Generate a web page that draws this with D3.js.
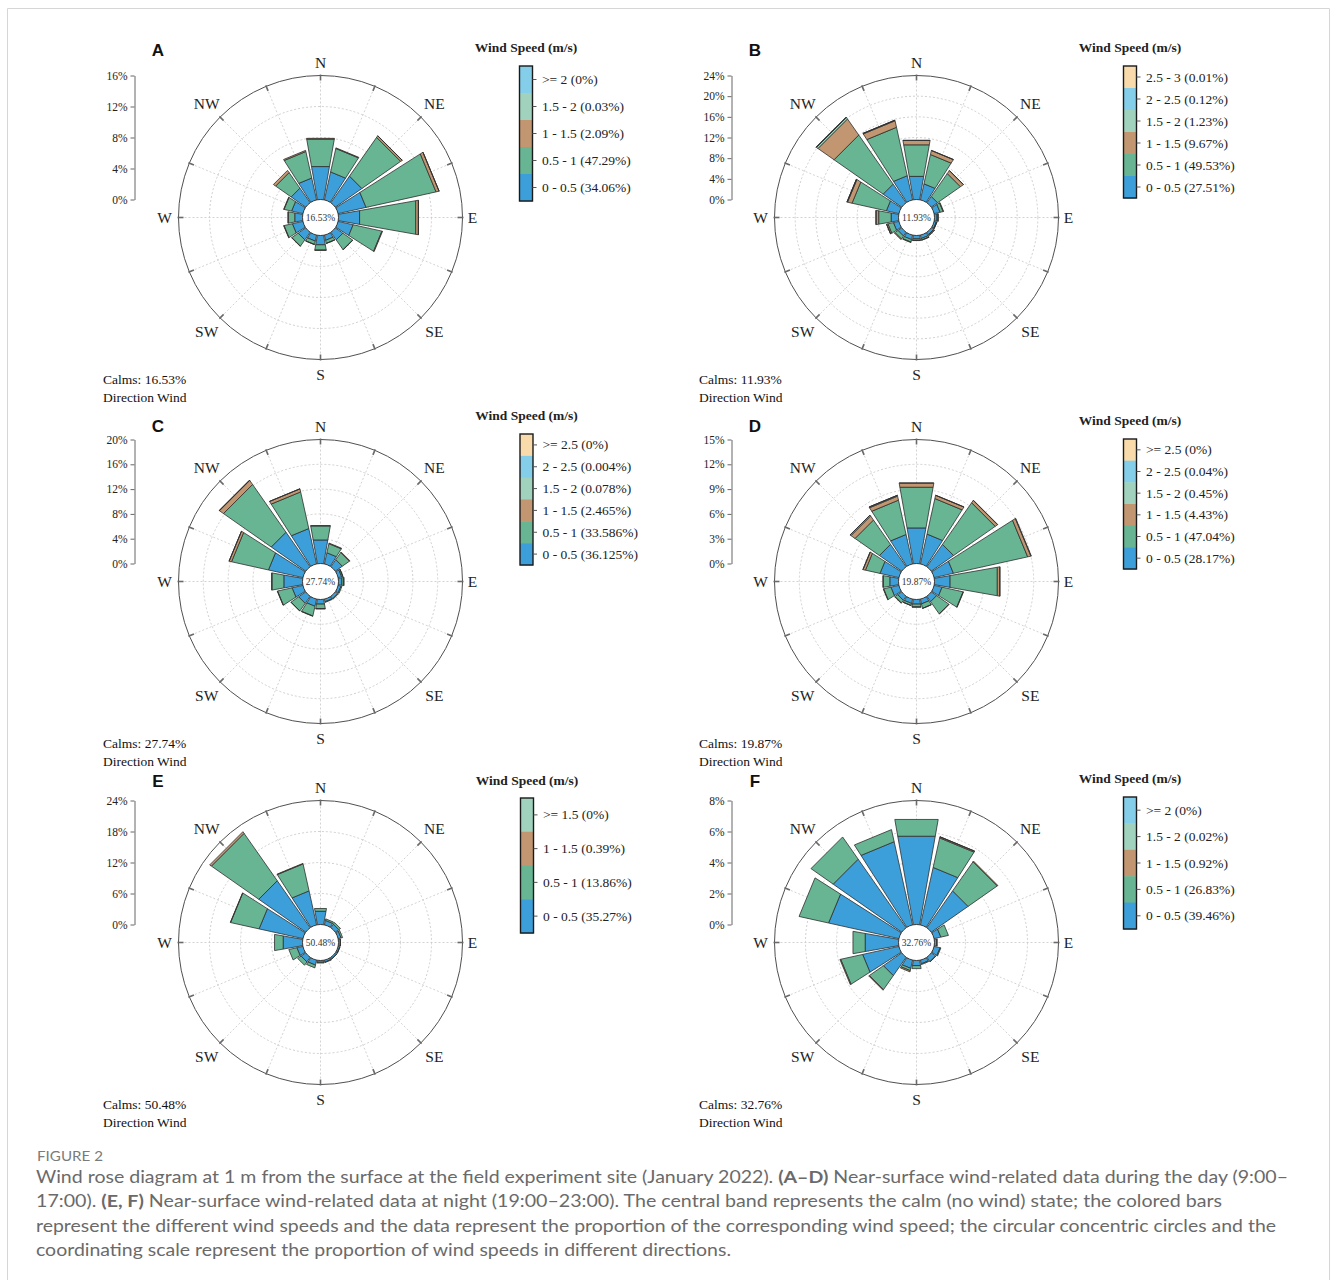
<!DOCTYPE html>
<html>
<head>
<meta charset="utf-8">
<script src="https://cdn.jsdelivr.net/npm/d3@7"></script>
<style>
  body { margin: 0; background: #fff; }
  svg { display: block; }
</style>
</head>
<body>
<svg id="fig" width="1333" height="1280"></svg>
<script>
// ---------- data ----------
// 16 sectors, clockwise from north
const sectors16 = ["N","NNE","NE","ENE","E","ESE","SE","SSE","S","SSW","SW","WSW","W","WNW","NW","NNW"];
const compassLabels = ["N","NE","E","SE","S","SW","W","NW"];
const panelLetters = ["A","B","C","D","E","F"];
const calmPct = [16.53, 11.93, 27.74, 19.87, 50.48, 32.76];
const radialMax = [16, 24, 20, 15, 24, 8];
const radialStep = [4, 4, 4, 3, 6, 2];

// speed bins, inner to outer: 0-0.5, 0.5-1, 1-1.5, 1.5-2, 2-2.5, >=2.5
const binColors = ["#3d9fd9", "#67b593", "#c29670", "#a0d2bd", "#84cee9", "#f9dbab"];

// legend entries, top to bottom
const legendA = [">= 2 (0%)", "1.5 - 2 (0.03%)", "1 - 1.5 (2.09%)", "0.5 - 1 (47.29%)", "0 - 0.5 (34.06%)"];
const legendB = ["2.5 - 3 (0.01%)", "2 - 2.5 (0.12%)", "1.5 - 2 (1.23%)", "1 - 1.5 (9.67%)", "0.5 - 1 (49.53%)", "0 - 0.5 (27.51%)"];
const legendC = [">= 2.5 (0%)", "2 - 2.5 (0.004%)", "1.5 - 2 (0.078%)", "1 - 1.5 (2.465%)", "0.5 - 1 (33.586%)", "0 - 0.5 (36.125%)"];
const legendD = [">= 2.5 (0%)", "2 - 2.5 (0.04%)", "1.5 - 2 (0.45%)", "1 - 1.5 (4.43%)", "0.5 - 1 (47.04%)", "0 - 0.5 (28.17%)"];
const legendE = [">= 1.5 (0%)", "1 - 1.5 (0.39%)", "0.5 - 1 (13.86%)", "0 - 0.5 (35.27%)"];
const legendF = [">= 2 (0%)", "1.5 - 2 (0.02%)", "1 - 1.5 (0.92%)", "0.5 - 1 (26.83%)", "0 - 0.5 (39.46%)"];

// frequency (%) per speed bin (rows, inner to outer) per sector (columns)
const freqA = [
  [4.35, 3.7, 4.2, 3.7, 2.8, 2.0, 1.2, 0.7, 1.25, 0.8, 1.2, 1.4, 1.05, 1.5, 2.3, 2.9],
  [3.6, 3.1, 6.1, 9.25, 7.35, 3.8, 1.55, 0.4, 0.7, 0.45, 1.0, 1.1, 0.85, 1.0, 2.45, 3.5],
  [0.1, 0.08, 0.25, 0.4, 0.35, 0.08, 0.03, 0.02, 0.03, 0.02, 0.03, 0.05, 0.04, 0.05, 0.35, 0.15],
  [0, 0, 0.01, 0.01, 0.01, 0, 0, 0, 0, 0, 0, 0, 0, 0, 0, 0],
  [0, 0, 0, 0, 0, 0, 0, 0, 0, 0, 0, 0, 0, 0, 0, 0]
];
const freqB = [
  [4.6, 3.2, 1.5, 1.2, 0.55, 0.45, 0.55, 0.7, 0.7, 0.9, 0.9, 1.1, 1.5, 2.5, 4.4, 4.8],
  [6.2, 5.8, 5.4, 0.6, 0.2, 0.1, 0.2, 0.3, 0.3, 0.5, 0.7, 1.1, 2.45, 6.8, 11.6, 9.6],
  [0.85, 0.8, 0.7, 0.1, 0.02, 0.02, 0.03, 0.05, 0.05, 0.1, 0.15, 0.25, 0.5, 0.9, 3.8, 1.3],
  [0.05, 0.03, 0.03, 0, 0, 0, 0, 0, 0, 0, 0, 0.02, 0.05, 0.1, 0.35, 0.1],
  [0, 0, 0, 0, 0, 0, 0, 0, 0, 0, 0, 0, 0, 0.01, 0.08, 0.02],
  [0, 0, 0, 0, 0, 0, 0, 0, 0, 0, 0, 0, 0, 0, 0.01, 0]
];
const freqC = [
  [3.9, 1.85, 1.4, 0.6, 0.6, 0.5, 0.5, 0.45, 0.8, 1.2, 1.4, 1.8, 3.1, 5.7, 6.8, 5.85],
  [2.3, 1.5, 1.4, 0.2, 0.3, 0.15, 0.1, 0.1, 0.75, 1.6, 1.5, 2.4, 1.95, 6.1, 9.4, 6.05],
  [0.05, 0.1, 0.1, 0.02, 0.02, 0, 0, 0, 0.02, 0.05, 0.03, 0.05, 0.05, 0.4, 0.8, 0.5],
  [0, 0, 0, 0, 0, 0, 0, 0, 0, 0, 0, 0, 0, 0.01, 0.04, 0.02],
  [0, 0, 0, 0, 0, 0, 0, 0, 0, 0, 0, 0, 0, 0, 0.004, 0],
  [0, 0, 0, 0, 0, 0, 0, 0, 0, 0, 0, 0, 0, 0, 0, 0]
];
const freqD = [
  [4.4, 3.7, 3.3, 2.4, 1.95, 1.0, 0.8, 0.6, 0.6, 0.55, 0.6, 1.0, 1.1, 2.35, 3.3, 3.65],
  [5.0, 4.4, 6.15, 9.2, 5.8, 2.6, 1.8, 0.55, 0.35, 0.25, 0.4, 0.9, 0.8, 1.8, 3.6, 4.25],
  [0.5, 0.4, 0.35, 0.4, 0.3, 0.05, 0.05, 0.02, 0.02, 0.02, 0.05, 0.05, 0.05, 0.3, 0.6, 0.5],
  [0.03, 0.02, 0.03, 0.05, 0.02, 0, 0, 0, 0, 0, 0, 0, 0, 0.03, 0.12, 0.1],
  [0, 0, 0, 0, 0, 0, 0, 0, 0, 0, 0, 0, 0, 0, 0.02, 0.01],
  [0, 0, 0, 0, 0, 0, 0, 0, 0, 0, 0, 0, 0, 0, 0, 0]
];
const freqE = [
  [2.65, 0.9, 0.85, 0.6, 0.4, 0.35, 0.35, 0.4, 0.4, 1.0, 1.1, 1.2, 3.85, 8.7, 11.1, 6.75],
  [0.55, 0.3, 0.4, 0.3, 0.05, 0.05, 0.05, 0.1, 0.15, 0.55, 0.8, 1.6, 1.7, 5.65, 11.2, 5.35],
  [0, 0, 0, 0, 0, 0, 0, 0, 0, 0, 0, 0, 0, 0.05, 0.4, 0.1],
  [0, 0, 0, 0, 0, 0, 0, 0, 0, 0, 0, 0, 0, 0, 0, 0]
];
const freqF = [
  [5.8, 3.8, 2.9, 0.45, 0.15, 0.4, 0.35, 0.25, 0.35, 0.55, 1.45, 2.4, 2.2, 4.65, 5.4, 5.5],
  [1.1, 1.95, 2.3, 0.5, 0.05, 0.05, 0.02, 0.05, 0.2, 0.15, 1.1, 1.45, 0.8, 1.95, 1.75, 0.8],
  [0, 0.07, 0.05, 0, 0, 0, 0, 0, 0, 0.08, 0.05, 0.05, 0, 0, 0, 0],
  [0, 0.01, 0, 0, 0, 0, 0, 0, 0, 0, 0, 0, 0, 0, 0, 0],
  [0, 0, 0, 0, 0, 0, 0, 0, 0, 0, 0, 0, 0, 0, 0, 0]
];

const freqs = [freqA, freqB, freqC, freqD, freqE, freqF];
const legends = [legendA, legendB, legendC, legendD, legendE, legendF];

// ---------- layout ----------
const R0 = 18, R = 142;
const panelLayout = [
  { cx: 320.5, cy: 217.5, axisX: 134.5, letter: [158, 50],  legX: 519.5,  legTop: 66,  legH: 135, titleY: 47,  textX: 103 },
  { cx: 916.5, cy: 217.5, axisX: 731.5, letter: [755, 50],  legX: 1123.5, legTop: 66,  legH: 132, titleY: 47,  textX: 699 },
  { cx: 320.5, cy: 581.5, axisX: 134.5, letter: [158, 426], legX: 520,    legTop: 434, legH: 131, titleY: 415, textX: 103 },
  { cx: 916.5, cy: 581.5, axisX: 731.5, letter: [755, 426], legX: 1123.5, legTop: 439, legH: 130, titleY: 420, textX: 699 },
  { cx: 320.5, cy: 942.5, axisX: 134.5, letter: [158, 781], legX: 520.5,  legTop: 798, legH: 135, titleY: 780, textX: 103 },
  { cx: 916.5, cy: 942.5, axisX: 731.5, letter: [755, 781], legX: 1123.5, legTop: 797, legH: 132, titleY: 778, textX: 699 }
];
const SERIF = "'Liberation Serif','Times New Roman',serif";
const SANS = "'Liberation Sans',Arial,sans-serif";

const svg = d3.select("#fig");
svg.append("rect").attr("width", 1333).attr("height", 1280).attr("fill", "#fff");
svg.append("path")
  .attr("d", "M7.5,1280V8.5H1329.5V1280")
  .attr("fill", "none").attr("stroke", "#d6d6d6").attr("stroke-width", 1);

const angle = d3.scaleLinear().domain([0, 16]).range([0, 2 * Math.PI]);
const halfWidth = 10 * Math.PI / 180;
const sectorPath = d3.lineRadial()
  .angle(p => p[0]).radius(p => p[1])
  .curve(d3.curveLinearClosed);

function drawPanel(i) {
  const L = panelLayout[i];
  const bins = freqs[i];
  const nb = bins.length;
  const max = radialMax[i];
  const ticks = d3.range(0, max + 1e-9, radialStep[i]);
  const r = d3.scaleLinear().domain([0, max]).range([R0, R]);

  const g = svg.append("g").attr("transform", `translate(${L.cx},${L.cy})`);

  // dashed rings
  g.selectAll("circle.ring")
    .data(ticks.filter(t => t > 0 && t < max))
    .join("circle")
    .attr("r", d => r(d))
    .attr("fill", "none").attr("stroke", "#c4c4c4")
    .attr("stroke-width", 0.8).attr("stroke-dasharray", "2,2");

  // dashed spokes
  g.selectAll("line.spoke")
    .data(d3.range(16))
    .join("line")
    .attr("x1", k => R0 * Math.sin(angle(k))).attr("y1", k => -R0 * Math.cos(angle(k)))
    .attr("x2", k => R * Math.sin(angle(k))).attr("y2", k => -R * Math.cos(angle(k)))
    .attr("stroke", "#c8c8c8").attr("stroke-width", 0.8).attr("stroke-dasharray", "2,2");

  // outer circle and its ticks
  g.append("circle").attr("r", R).attr("fill", "none")
    .attr("stroke", "#505050").attr("stroke-width", 1);
  g.selectAll("line.otick")
    .data(d3.range(16))
    .join("line")
    .attr("x1", k => (R - 5) * Math.sin(angle(k))).attr("y1", k => -(R - 5) * Math.cos(angle(k)))
    .attr("x2", k => (R + 1) * Math.sin(angle(k))).attr("y2", k => -(R + 1) * Math.cos(angle(k)))
    .attr("stroke", "#6a6a6a").attr("stroke-width", 1.6);

  // stacked bars
  const rows = d3.range(16).map(k => {
    const o = {};
    for (let j = 0; j < nb; j++) o[j] = bins[j][k];
    return o;
  });
  const series = d3.stack().keys(d3.range(nb))(rows);
  series.forEach((s, j) => {
    const segs = s.map((d, k) => ({ k, y0: d[0], y1: d[1] })).filter(d => d.y1 - d.y0 > 0.0005);
    g.selectAll(null)
      .data(segs)
      .join("path")
      .attr("d", d => {
        const a = angle(d.k);
        return sectorPath([[a - halfWidth, r(d.y0)], [a - halfWidth, r(d.y1)],
                           [a + halfWidth, r(d.y1)], [a + halfWidth, r(d.y0)]]);
      })
      .attr("fill", binColors[j])
      .attr("stroke", "#2e2e2e").attr("stroke-width", 0.8).attr("stroke-linejoin", "miter");
  });

  // calm circle
  g.append("circle").attr("r", R0).attr("fill", "#fff")
    .attr("stroke", "#2e2e2e").attr("stroke-width", 0.9);
  g.append("text").text(calmPct[i].toFixed(2) + "%")
    .attr("text-anchor", "middle").attr("dominant-baseline", "central")
    .attr("font-family", SERIF).attr("font-size", 9.5).attr("fill", "#333");

  // compass labels
  const labelR = [155, 161, 152, 161, 157, 161, 156, 161];
  g.selectAll("text.dir")
    .data(compassLabels)
    .join("text")
    .attr("x", (d, m) => labelR[m] * Math.sin(m * Math.PI / 4))
    .attr("y", (d, m) => -labelR[m] * Math.cos(m * Math.PI / 4))
    .attr("text-anchor", "middle").attr("dominant-baseline", "central")
    .attr("font-family", SERIF).attr("font-size", 15.5).attr("fill", "#222")
    .text(d => d);

  // radial scale axis
  const yAx = d3.scaleLinear().domain([0, max]).range([L.cy - R0, L.cy - R]);
  const ax = svg.append("g")
    .attr("transform", `translate(${L.axisX},0)`)
    .call(d3.axisLeft(yAx).tickValues(ticks).tickFormat(d => d + "%")
      .tickSizeInner(4).tickSizeOuter(0).tickPadding(3));
  ax.select(".domain").attr("stroke", "#666");
  ax.selectAll(".tick line").attr("stroke", "#666");
  ax.selectAll(".tick text").attr("font-family", SERIF).attr("font-size", 11.5).attr("fill", "#222");

  // panel letter
  svg.append("text").text(panelLetters[i])
    .attr("x", L.letter[0]).attr("y", L.letter[1])
    .attr("text-anchor", "middle").attr("dominant-baseline", "central")
    .attr("font-family", SANS).attr("font-weight", "bold").attr("font-size", 17).attr("fill", "#111");

  // calms note
  svg.append("text").text("Calms: " + calmPct[i].toFixed(2) + "%")
    .attr("x", L.textX).attr("y", L.cy + 162)
    .attr("dominant-baseline", "central")
    .attr("font-family", SERIF).attr("font-size", 13.5).attr("fill", "#111");
  svg.append("text").text("Direction Wind")
    .attr("x", L.textX).attr("y", L.cy + 180)
    .attr("dominant-baseline", "central")
    .attr("font-family", SERIF).attr("font-size", 13.5).attr("fill", "#111");

  // colour key
  const labels = legends[i];
  const segH = L.legH / nb;
  const bw = 13;
  const lg = svg.append("g");
  lg.append("text").text("Wind Speed (m/s)")
    .attr("x", L.legX + bw / 2).attr("y", L.titleY)
    .attr("text-anchor", "middle").attr("dominant-baseline", "central")
    .attr("font-family", SERIF).attr("font-weight", "bold").attr("font-size", 13.5).attr("fill", "#222");
  lg.selectAll("rect.seg")
    .data(labels)
    .join("rect")
    .attr("x", L.legX).attr("y", (d, j) => L.legTop + j * segH)
    .attr("width", bw).attr("height", segH + 0.5)
    .attr("fill", (d, j) => binColors[nb - 1 - j]);
  lg.append("rect")
    .attr("x", L.legX).attr("y", L.legTop).attr("width", bw).attr("height", L.legH)
    .attr("fill", "none").attr("stroke", "#1a1a1a").attr("stroke-width", 1.4);
  lg.selectAll("line.ktick")
    .data(labels)
    .join("line")
    .attr("x1", L.legX + bw).attr("x2", L.legX + bw + 4)
    .attr("y1", (d, j) => L.legTop + (j + 0.5) * segH)
    .attr("y2", (d, j) => L.legTop + (j + 0.5) * segH)
    .attr("stroke", "#555").attr("stroke-width", 1);
  lg.selectAll("text.klab")
    .data(labels)
    .join("text")
    .attr("x", L.legX + 22.5)
    .attr("y", (d, j) => L.legTop + (j + 0.5) * segH)
    .attr("dominant-baseline", "central")
    .attr("font-family", SERIF).attr("font-size", 13.5).attr("fill", "#222")
    .text(d => d);
}

d3.range(6).forEach(drawPanel);

// ---------- caption ----------
const CAP = "Lato, 'Open Sans', sans-serif";
svg.append("text").text("FIGURE 2")
  .attr("x", 37).attr("y", 1160.5)
  .attr("font-family", CAP).attr("font-size", 14).attr("fill", "#7a7a7a")
  .attr("textLength", 66).attr("lengthAdjust", "spacingAndGlyphs");

const captionLines = [
  [["Wind rose diagram at 1 m from the surface at the field experiment site (January 2022). ", false], ["(A\u2013D)", true], [" Near-surface wind-related data during the day (9:00\u2013", false]],
  [["17:00). ", false], ["(E, F)", true], [" Near-surface wind-related data at night (19:00\u201323:00). The central band represents the calm (no wind) state; the colored bars", false]],
  [["represent the different wind speeds and the data represent the proportion of the corresponding wind speed; the circular concentric circles and the", false]],
  [["coordinating scale represent the proportion of wind speeds in different directions.", false]]
];
const captionWidths = [1252, 1186, 1240, 695];
captionLines.forEach((parts, li) => {
  const t = svg.append("text")
    .attr("x", 36).attr("y", 1183 + li * 24.4)
    .attr("font-family", CAP).attr("font-size", 17.5).attr("fill", "#6a6a6a")
    .attr("textLength", captionWidths[li]).attr("lengthAdjust", "spacingAndGlyphs");
  parts.forEach(([s, b]) => {
    t.append("tspan").text(s).attr("font-weight", b ? "bold" : "normal");
  });
});
</script>
</body>
</html>
